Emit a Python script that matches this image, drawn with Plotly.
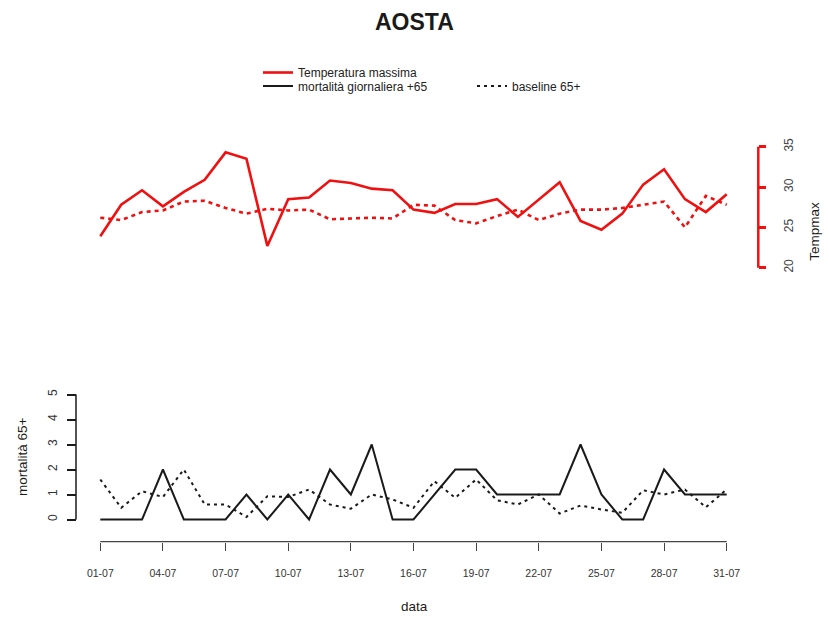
import plotly.graph_objects as go

days = list(range(1, 32))
tick_days = [1, 4, 7, 10, 13, 16, 19, 22, 25, 28, 31]
tick_labels = ["01-07", "04-07", "07-07", "10-07", "13-07", "16-07",
               "19-07", "22-07", "25-07", "28-07", "31-07"]

temp_max = [23.9, 27.8, 29.6, 27.6, 29.4, 30.9, 34.3, 33.5, 22.7, 28.5, 28.7,
            30.8, 30.5, 29.8, 29.6, 27.2, 26.8, 27.9, 27.9, 28.5, 26.3, 28.4,
            30.6, 25.8, 24.7, 26.7, 30.3, 32.2, 28.5, 26.9, 29.1]
temp_baseline = [26.2, 25.9, 26.9, 27.1, 28.2, 28.3, 27.4, 26.7, 27.3, 27.1, 27.2,
                 26.0, 26.1, 26.2, 26.1, 27.8, 27.7, 25.9, 25.5, 26.4, 27.2, 25.9,
                 26.7, 27.2, 27.2, 27.4, 27.8, 28.2, 25.0, 28.9, 27.8]
mort_daily = [0, 0, 0, 2, 0, 0, 0, 1, 0, 1, 0, 2, 1, 3, 0, 0,
              1, 2, 2, 1, 1, 1, 1, 3, 1, 0, 0, 2, 1, 1, 1]
mort_baseline = [1.6, 0.47, 1.13, 0.9, 2.0, 0.6, 0.6, 0.1, 0.93, 0.9, 1.2,
                 0.6, 0.43, 1.0, 0.8, 0.47, 1.53, 0.87, 1.6, 0.77, 0.6, 1.0,
                 0.24, 0.56, 0.4, 0.27, 1.17, 1.0, 1.2, 0.49, 1.2]

W, H = 829, 617
FONT = "Liberation Sans, Arial, sans-serif"
RED = "#f01010"
BLACK = "#1a1a1a"


def px_range(v_a, p_a, v_b, p_b, total, flip=False):
    # value range for an axis spanning the full figure, from two pixel anchors
    k = (v_b - v_a) / (p_b - p_a)
    if flip:
        return [v_a + (total - p_a) * k, v_a - p_a * k]
    return [v_a - p_a * k, v_a + (total - p_a) * k]


def label(text, px, py, size=13.5, angle=0, bold=False):
    if bold:
        text = "<b>" + text + "</b>"
    return dict(text=text, x=px / W, y=1 - py / H, xref="paper", yref="paper",
                xanchor="center", yanchor="middle", showarrow=False,
                textangle=angle, font=dict(size=size, color="#1a1a1a"))


fig = go.Figure()

fig.add_trace(go.Scatter(x=days, y=temp_max, yaxis="y2", mode="lines",
                         name="Temperatura massima", legend="legend",
                         line=dict(color=RED, width=2.6)))
fig.add_trace(go.Scatter(x=days, y=temp_baseline, yaxis="y2", mode="lines",
                         showlegend=False,
                         line=dict(color=RED, width=2.6, dash="4px,4px")))
fig.add_trace(go.Scatter(x=days, y=mort_daily, yaxis="y", mode="lines",
                         name="mortalità giornaliera +65", legend="legend2",
                         line=dict(color=BLACK, width=2)))
fig.add_trace(go.Scatter(x=days, y=mort_baseline, yaxis="y", mode="lines",
                         name="baseline 65+", legend="legend2",
                         line=dict(color=BLACK, width=2, dash="3px,4px")))

x_axis_py = 541.7
left_px = 76
right_px = 758.3

fig.update_layout(
    width=W, height=H,
    margin=dict(l=0, r=0, t=0, b=0),
    plot_bgcolor="white", paper_bgcolor="white",
    font=dict(family=FONT, color="#222"),
    xaxis=dict(range=px_range(1, 100.3, 31, 726.7, W),
               domain=[0, 1], anchor="free", position=1 - x_axis_py / H,
               showgrid=False, zeroline=False, showline=False,
               tickmode="array", tickvals=tick_days, ticktext=tick_labels,
               ticks="outside", ticklen=8, tickwidth=1.3, tickcolor="#444",
               ticklabelstandoff=14, tickfont=dict(size=10.5, color="#333")),
    yaxis=dict(range=px_range(0, 519.5, 5, 394.5, H, flip=True),
               domain=[0, 1], anchor="free", position=left_px / W, side="left",
               showgrid=False, zeroline=False, showline=False,
               tickmode="array", tickvals=[0, 1, 2, 3, 4, 5],
               ticks="outside", ticklen=9, tickwidth=1.5, tickcolor=BLACK,
               tickangle=-90, ticklabelstandoff=5,
               tickfont=dict(size=12, color="#333")),
    yaxis2=dict(range=px_range(20, 267.7, 35, 146.7, H, flip=True),
                domain=[0, 1], anchor="free", position=right_px / W, side="right",
                overlaying="y",
                showgrid=False, zeroline=False, showline=False,
                tickmode="array", tickvals=[20, 25, 30, 35],
                ticks="outside", ticklen=7, tickwidth=2.5, tickcolor=RED,
                tickangle=-90, ticklabelstandoff=12,
                tickfont=dict(size=12, color="#444")),
    legend=dict(x=258 / W, y=1 - 72.5 / H, xanchor="left", yanchor="middle",
                bgcolor="rgba(0,0,0,0)", font=dict(size=12, color="#222"),
                itemwidth=30),
    legend2=dict(x=258 / W, y=1 - 86 / H, xanchor="left", yanchor="middle",
                 orientation="h", bgcolor="rgba(0,0,0,0)",
                 entrywidth=169, entrywidthmode="pixels",
                 font=dict(size=12, color="#222"), itemwidth=30),
    shapes=[
        dict(type="line", xref="paper", yref="y", x0=left_px / W, x1=left_px / W,
             y0=0, y1=5, line=dict(color=BLACK, width=1.5)),
        dict(type="line", xref="paper", yref="y2", x0=right_px / W, x1=right_px / W,
             y0=20, y1=35, line=dict(color=RED, width=2.5)),
        dict(type="line", xref="x", yref="paper", x0=1, x1=31,
             y0=1 - x_axis_py / H, y1=1 - x_axis_py / H,
             line=dict(color="#444", width=1.3)),
    ],
    annotations=[
        label("AOSTA", 414.5, 22.5, size=23, bold=True),
        label("Tempmax", 815, 231.7, angle=-90),
        label("mortalità 65+", 23, 457, angle=-90),
        label("data", 414, 606),
    ],
)

# page has a default body margin; remove it so the figure sits at the corner
fig.write_html("out.html", config={"displayModeBar": False},
               post_script="document.body.style.margin='0';")
